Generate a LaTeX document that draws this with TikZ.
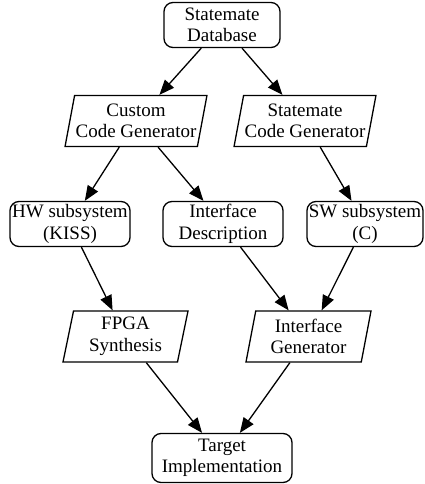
\documentclass[tikz,border=0pt]{standalone}
\usepackage{fontspec}
\setmainfont{Liberation Serif}
\usetikzlibrary{arrows.meta,positioning,shapes.geometric}
\tikzset{
  blk/.style={draw,line width=1.3pt,align=center,font=\fontsize{19}{21.5}\selectfont,inner xsep=1pt,inner ysep=2pt},
  rndblk/.style={blk,rectangle,rounded corners=9pt,minimum height=45pt,minimum width=116pt},
  parblk/.style={blk,trapezium,trapezium left angle=76,trapezium right angle=104,trapezium stretches body,minimum height=51pt,minimum width=125pt},
  arr/.style={-{Triangle[length=15pt,width=12pt]},line width=1.3pt}
}

\begin{document}
\begin{tikzpicture}[on grid]
  \useasboundingbox (-222pt,25pt) rectangle (202pt,-459pt);
  \node[rndblk] (db) {Statemate\\Database};
  \node[parblk, minimum width=138pt, below left=96pt and 86pt of db] (ccg) {Custom\\Code Generator};
  \node[parblk, minimum width=138pt, below right=96pt and 83pt of db] (scg) {Statemate\\Code Generator};
  \node[rndblk, minimum width=120pt, below left=103pt and 66pt of ccg] (hw) {HW subsystem\\(KISS)};
  \node[rndblk, minimum width=120pt, below right=103pt and 87pt of ccg] (ifd) {Interface\\Description};
  \node[rndblk, below right=103pt and 60pt of scg] (sw) {SW subsystem\\(C)};
  \node[parblk, below right=112.5pt and 55.5pt of hw] (fpga) {FPGA\\Synthesis};
  \node[parblk, below right=112.5pt and 85.5pt of ifd] (ifg) {Interface\\Generator};
  \node[rndblk, minimum width=140pt, minimum height=49pt, below right=121.5pt and 96.5pt of fpga] (tgt) {Target\\Implementation};

  \draw[arr] (db)--(ccg);
  \draw[arr] (db)--(scg);
  \draw[arr] (ccg)--(hw);
  \draw[arr] (ccg)--(ifd);
  \draw[arr] (scg)--(sw);
  \draw[arr] (hw)--(fpga);
  \draw[arr] (ifd)--(ifg);
  \draw[arr] (sw)--(ifg);
  \draw[arr] (fpga)--(tgt);
  \draw[arr] (ifg)--(tgt);
\end{tikzpicture}
\end{document}
